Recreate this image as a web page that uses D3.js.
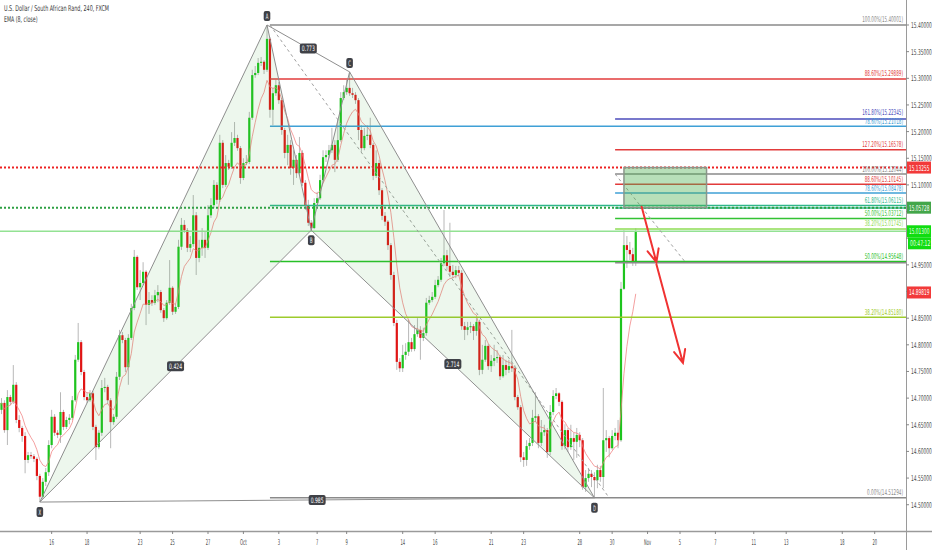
<!DOCTYPE html>
<html><head><meta charset="utf-8">
<script src="https://cdn.jsdelivr.net/npm/d3@7"></script>
<style>html,body{margin:0;padding:0;background:#fff;overflow:hidden}</style>
</head><body>
<svg id="c" width="932" height="550"></svg>
<script>
// ---------- DATA (USD/ZAR 4h candles) ----------
const opens = [
14.678,14.691,14.640,14.702,14.693,14.725,14.659,14.644,14.629,14.584,
14.593,14.591,14.586,14.554,14.515,14.543,14.561,14.612,14.665,14.635,
14.631,14.674,14.646,14.659,14.663,14.696,14.772,14.805,14.749,14.702,
14.696,14.709,14.646,14.608,14.635,14.719,14.721,14.696,14.655,14.665,
14.740,14.818,14.809,14.758,14.813,14.869,14.965,14.908,14.916,14.937,
14.875,14.884,14.879,14.893,14.899,14.865,14.850,14.879,14.907,14.862,
14.871,14.984,15.025,15.015,14.982,14.989,15.043,14.963,14.982,14.997,
14.982,15.043,15.062,15.100,15.072,15.179,15.100,15.141,15.134,15.179,
15.188,15.169,15.113,15.141,15.143,15.226,15.306,15.310,15.329,15.331,
15.316,15.374,15.241,15.272,15.287,15.259,15.203,15.160,15.175,15.132,
15.147,15.122,15.160,15.104,15.062,15.029,15.019,15.066,15.075,15.109,
15.152,15.156,15.165,15.175,15.147,15.184,15.263,15.274,15.282,15.272,
15.269,15.259,15.203,15.169,15.192,15.194,15.175,15.117,15.141,15.090,
15.042,15.031,14.987,14.931,14.841,14.768,14.756,14.781,14.787,14.805,
14.792,14.820,14.828,14.813,14.822,14.879,14.884,14.890,14.912,14.922,
14.953,14.968,14.948,14.937,14.931,14.940,14.935,14.835,14.828,14.833,
14.835,14.826,14.843,14.753,14.772,14.798,14.760,14.770,14.775,14.777,
14.741,14.762,14.753,14.760,14.756,14.702,14.683,14.589,14.584,14.610,
14.616,14.663,14.666,14.616,14.636,14.640,14.599,14.674,14.704,14.709,
14.693,14.610,14.640,14.608,14.625,14.618,14.631,14.621,14.533,14.550,
14.558,14.552,14.546,14.565,14.552,14.621,14.625,14.606,14.629,14.635,
14.621,14.905,14.987,14.978,14.970,14.955];
const highs = [
14.700,14.696,14.715,14.706,14.762,14.730,14.668,14.648,14.636,14.599,
14.599,14.595,14.589,14.558,14.550,14.569,14.621,14.678,14.670,14.640,
14.711,14.678,14.665,14.670,14.704,14.781,14.841,14.809,14.753,14.711,
14.715,14.713,14.650,14.640,14.734,14.738,14.725,14.700,14.670,14.749,
14.828,14.824,14.813,14.820,14.877,14.978,14.968,14.940,14.955,14.940,
14.899,14.893,14.903,14.912,14.903,14.869,14.884,14.959,14.910,14.877,
14.997,15.038,15.034,15.019,15.004,15.081,15.049,14.997,15.019,15.012,
15.062,15.075,15.109,15.105,15.194,15.184,15.156,15.147,15.199,15.218,
15.194,15.173,15.150,15.156,15.237,15.316,15.323,15.338,15.340,15.334,
15.400,15.377,15.282,15.297,15.293,15.263,15.207,15.194,15.184,15.165,
15.156,15.190,15.165,15.109,15.072,15.034,15.075,15.087,15.119,15.165,
15.165,15.175,15.207,15.184,15.222,15.274,15.287,15.297,15.312,15.282,
15.274,15.263,15.212,15.207,15.212,15.226,15.179,15.165,15.147,15.094,
15.049,15.034,14.991,14.937,14.847,14.775,14.800,14.803,14.847,14.813,
14.837,14.850,14.835,14.832,14.888,14.892,14.899,14.922,14.929,14.963,
15.053,14.978,15.029,14.950,14.948,14.948,14.940,14.843,14.843,14.843,
14.839,14.850,14.847,14.800,14.809,14.802,14.781,14.800,14.790,14.781,
14.781,14.772,14.772,14.828,14.762,14.706,14.687,14.599,14.621,14.625,
14.678,14.711,14.670,14.659,14.650,14.644,14.687,14.715,14.719,14.711,
14.696,14.651,14.644,14.650,14.635,14.644,14.636,14.625,14.565,14.569,
14.565,14.561,14.575,14.573,14.719,14.640,14.629,14.640,14.644,14.659,
14.918,15.015,15.004,14.993,14.982,15.019];
const lows = [
14.670,14.635,14.612,14.687,14.689,14.653,14.636,14.618,14.559,14.578,
14.586,14.580,14.546,14.505,14.511,14.535,14.554,14.606,14.629,14.625,
14.616,14.640,14.642,14.651,14.659,14.693,14.768,14.743,14.696,14.691,
14.693,14.640,14.584,14.604,14.629,14.711,14.689,14.606,14.650,14.661,
14.734,14.803,14.749,14.725,14.809,14.865,14.903,14.884,14.912,14.837,
14.858,14.873,14.875,14.880,14.860,14.843,14.847,14.875,14.856,14.858,
14.867,14.978,15.010,14.974,14.974,14.984,14.931,14.955,14.967,14.963,
14.978,15.038,15.057,15.064,15.068,15.094,15.096,15.128,15.130,15.173,
15.164,15.102,15.109,15.137,15.139,15.222,15.301,15.306,15.323,15.308,
15.312,15.226,15.212,15.267,15.252,15.194,15.150,15.137,15.119,15.100,
15.113,15.117,15.098,15.053,15.023,15.015,15.017,15.060,15.072,15.105,
15.143,15.150,15.160,15.124,15.143,15.181,15.259,15.269,15.267,15.263,
15.252,15.184,15.162,15.165,15.184,15.169,15.109,15.113,15.081,15.034,
15.023,14.978,14.922,14.835,14.753,14.749,14.749,14.772,14.779,14.787,
14.788,14.815,14.772,14.807,14.817,14.875,14.880,14.886,14.908,14.918,
14.948,14.940,14.927,14.925,14.925,14.929,14.828,14.809,14.818,14.822,
14.809,14.817,14.743,14.745,14.768,14.753,14.749,14.760,14.766,14.734,
14.738,14.743,14.747,14.749,14.696,14.678,14.580,14.571,14.573,14.603,
14.610,14.655,14.606,14.610,14.629,14.588,14.593,14.668,14.698,14.685,
14.603,14.604,14.599,14.603,14.584,14.588,14.608,14.528,14.524,14.543,
14.533,14.513,14.531,14.543,14.531,14.599,14.589,14.603,14.621,14.606,
14.618,14.903,14.944,14.959,14.948,14.948];
const closes = [
14.691,14.640,14.702,14.693,14.725,14.659,14.644,14.629,14.584,14.593,
14.591,14.586,14.554,14.515,14.543,14.561,14.612,14.665,14.635,14.631,
14.674,14.646,14.659,14.663,14.696,14.772,14.805,14.749,14.702,14.696,
14.709,14.646,14.608,14.635,14.719,14.721,14.696,14.655,14.665,14.740,
14.818,14.809,14.758,14.813,14.869,14.965,14.908,14.916,14.937,14.875,
14.884,14.879,14.893,14.899,14.865,14.850,14.879,14.907,14.862,14.871,
14.984,15.025,15.015,14.982,14.989,15.043,14.963,14.982,14.997,14.982,
15.043,15.062,15.100,15.072,15.179,15.100,15.141,15.134,15.179,15.188,
15.169,15.113,15.141,15.143,15.226,15.306,15.310,15.329,15.331,15.316,
15.374,15.241,15.272,15.287,15.259,15.203,15.160,15.175,15.132,15.147,
15.122,15.160,15.104,15.062,15.029,15.019,15.066,15.075,15.109,15.152,
15.156,15.165,15.175,15.147,15.184,15.263,15.274,15.282,15.272,15.269,
15.259,15.203,15.169,15.192,15.194,15.175,15.117,15.141,15.090,15.042,
15.031,14.987,14.931,14.841,14.768,14.756,14.781,14.787,14.805,14.792,
14.820,14.828,14.813,14.822,14.879,14.884,14.890,14.912,14.922,14.953,
14.968,14.948,14.937,14.931,14.940,14.935,14.835,14.828,14.833,14.835,
14.826,14.843,14.753,14.772,14.798,14.760,14.770,14.775,14.777,14.741,
14.762,14.753,14.760,14.756,14.702,14.683,14.589,14.584,14.610,14.616,
14.663,14.666,14.616,14.636,14.640,14.599,14.674,14.704,14.709,14.693,
14.610,14.640,14.608,14.625,14.618,14.631,14.621,14.533,14.550,14.558,
14.552,14.546,14.565,14.552,14.621,14.625,14.606,14.629,14.635,14.621,
14.905,14.987,14.978,14.970,14.955,15.013];

const tickLabels = ["16","18","23","25","27","Oct","3","7","9","14","16","21","23","28","30","Nov","5","7","11","13","18","20"];
const tickBars   = [17,29,47,58,70,82,94,107,117,136,147,166,177,196,207,219,230,242,255,266,285,296];
const priceTicks = [14.50,14.55,14.60,14.65,14.70,14.75,14.80,14.85,14.90,14.95,15.00,15.05,15.10,15.15,15.20,15.25,15.30,15.35,15.40];

const patternNames  = ["X","A","B","C","D"];
const patternBars   = [13,90,105,118,201];
const patternPrices = [14.505,15.400,15.015,15.312,14.513];
const ratioFrom = [1,0,2,0];
const ratioTo   = [3,2,4,4];
const ratioText = ["0.773","0.424","2.714","0.985"];

const fib1Levels = ["100.00%","88.60%","78.60%","61.80%","50.00%","38.20%","0.00%"];
const fib1Prices = [15.40001,15.29889,15.21018,15.06115,14.95648,14.85180,14.51294];
const fib1Colors = ["#8a8a8a","#e23b3b","#3fa0d6","#2fb78a","#27c027","#9dcb2c","#8a8a8a"];
const fib1Anchor = [[91,15.40001],[206,14.51294]];

const fib2Levels = ["161.80%","127.20%","100.00%","88.60%","78.60%","61.80%","50.00%","38.20%","0.00%"];
const fib2Prices = [15.22345,15.16578,15.12044,15.10145,15.08478,15.05677,15.03712,15.01745,14.95376];
const fib2Colors = ["#4b4bbb","#e23b3b","#8a8a8a","#e23b3b","#3fa0d6","#2fb78a","#33c233","#8edc55","#8a8a8a"];
const fib2ShowLabel = [1,1,1,1,1,0,1,1,0];
const fib2Anchor = [[208,15.12044],[232,14.95376]];

const hLinePrices = [15.13255,15.05728];
const hLineColors = ["#ee2222","#2ea043"];

const zoneBars   = [211,239];
const zonePrices = [15.13255,15.05728];

const arrowFromBars   = [217,222];
const arrowFromPrices = [15.059,14.951];
const arrowToBars     = [222,231];
const arrowToPrices   = [14.955,14.766];

const emaLength = 8;
const emaLabelValue = 14.89819;
const countdownText = "00:47:12";

// ---------- LAYOUT ----------
const W = 932, H = 550, plotW = 906, plotH = 531;
const font = "'Liberation Sans Narrow','DejaVu Sans Condensed','Liberation Sans',Arial,sans-serif";
const svg = d3.select("#c");
svg.append("rect").attr("width", W).attr("height", H).attr("fill", "#fff");

const x = d3.scaleLinear().domain([0, 300]).range([1.5, 886.5]);
const y = d3.scaleLinear().domain([14.4507, 15.4469]).range([plotH, 0]);

svg.append("defs").append("clipPath").attr("id", "clip")
  .append("rect").attr("width", plotW).attr("height", plotH);
const plot = svg.append("g").attr("clip-path", "url(#clip)");

// text helper: condensed text scaled horizontally to a target width per character
function txt(g, s, px, py, o) {
  const gg = g.append("g").attr("transform", `translate(${px},${py})`);
  const t = gg.append("text").attr("x", 0).attr("y", 0).text(s)
    .attr("font-family", font).attr("font-size", o.size || 8)
    .attr("fill", o.fill || "#333").attr("text-anchor", o.anchor || "start");
  if (o.cw) {
    const nat = t.node().getComputedTextLength();
    if (nat > 0) gg.attr("transform", `translate(${px},${py}) scale(${(s.length * o.cw / nat).toFixed(4)},1)`);
  }
  return gg;
}

// candles
const candles = closes.map((c, i) => ({ i, o: opens[i], h: highs[i], l: lows[i], c }));
const cg = plot.append("g");
cg.selectAll("line").data(candles).join("line")
  .attr("x1", d => x(d.i)).attr("x2", d => x(d.i))
  .attr("y1", d => y(d.h)).attr("y2", d => y(d.l))
  .attr("stroke", "#b8b8b8").attr("stroke-width", 1);
cg.selectAll("rect").data(candles).join("rect")
  .attr("x", d => x(d.i) - 1.1).attr("width", 2.2)
  .attr("y", d => y(Math.max(d.o, d.c)))
  .attr("height", d => Math.max(1, Math.abs(y(d.o) - y(d.c))))
  .attr("fill", d => d.c >= d.o ? "#1ec41e" : "#e01414");

// EMA(8, close)
const k = 2 / (emaLength + 1);
const ema = [];
closes.forEach((c, i) => ema.push(i === 0 ? c : ema[i - 1] + k * (c - ema[i - 1])));
plot.append("path").datum(ema)
  .attr("d", d3.line().x((d, i) => x(i)).y(d => y(d)))
  .attr("fill", "none").attr("stroke", "#f07f7f").attr("stroke-width", 1).attr("opacity", 0.75);

// drawings
const gd = plot.append("g");

// last price line
const lastClose = closes[closes.length - 1];
gd.append("line").attr("x1", 0).attr("x2", plotW).attr("y1", y(lastClose)).attr("y2", y(lastClose))
  .attr("stroke", "#93e293").attr("stroke-width", 1.5);

function drawFib(levels, prices, colors, anchor) {
  levels.forEach((lv, j) => {
    const yy = y(prices[j]);
    gd.append("line").attr("x1", x(anchor[0][0])).attr("x2", plotW).attr("y1", yy).attr("y2", yy)
      .attr("stroke", colors[j]).attr("stroke-width", 1.5);
  });
  gd.append("line")
    .attr("x1", x(anchor[0][0])).attr("y1", y(anchor[0][1]))
    .attr("x2", x(anchor[1][0])).attr("y2", y(anchor[1][1]))
    .attr("stroke", "#a0a0a0").attr("stroke-width", 1).attr("stroke-dasharray", "3,3");
}
drawFib(fib1Levels, fib1Prices, fib1Colors, fib1Anchor);
drawFib(fib2Levels, fib2Prices, fib2Colors, fib2Anchor);

// dotted horizontal lines
hLinePrices.forEach((p, j) => {
  gd.append("line").attr("x1", 0).attr("x2", plotW).attr("y1", y(p)).attr("y2", y(p))
    .attr("stroke", hLineColors[j]).attr("stroke-width", 2).attr("stroke-dasharray", "2,2");
});

// XABCD pattern
const pts = patternBars.map((b, j) => ({ x: x(b), y: y(patternPrices[j]) }));
[[0, 1, 2], [2, 3, 4]].forEach(tri => {
  gd.append("polygon").attr("points", tri.map(j => pts[j].x + "," + pts[j].y).join(" "))
    .attr("fill", "rgba(76,175,80,0.10)").attr("stroke", "none");
});
[[0,1],[1,2],[2,3],[3,4],[0,2],[2,4],[1,3],[0,4]].forEach(s => {
  gd.append("line").attr("x1", pts[s[0]].x).attr("y1", pts[s[0]].y)
    .attr("x2", pts[s[1]].x).attr("y2", pts[s[1]].y)
    .attr("stroke", "#8e8e8e").attr("stroke-width", 1);
});

// target zone
gd.append("rect")
  .attr("x", x(zoneBars[0])).attr("y", y(zonePrices[0]))
  .attr("width", x(zoneBars[1]) - x(zoneBars[0]))
  .attr("height", y(zonePrices[1]) - y(zonePrices[0]))
  .attr("fill", "rgba(76,175,80,0.40)").attr("stroke", "#8a968a").attr("stroke-width", 1.5);

// arrows
arrowFromBars.forEach((b, j) => {
  const x1 = x(b), y1 = y(arrowFromPrices[j]), x2 = x(arrowToBars[j]), y2 = y(arrowToPrices[j]);
  const a = Math.atan2(y2 - y1, x2 - x1), L = 14, s = 0.42;
  gd.append("path")
    .attr("d", `M${x1},${y1}L${x2},${y2}M${x2 - L * Math.cos(a - s)},${y2 - L * Math.sin(a - s)}L${x2},${y2}L${x2 - L * Math.cos(a + s)},${y2 - L * Math.sin(a + s)}`)
    .attr("fill", "none").attr("stroke", "#f03232").attr("stroke-width", 2).attr("stroke-linecap", "round");
});

// labels layer (not clipped)
const gl = svg.append("g");

// pattern tags
function tag(s, cx, cy) {
  const w = s.length * 2.6 + 4, h = 10;
  gl.append("rect").attr("x", cx - w / 2).attr("y", cy - h / 2).attr("width", w).attr("height", h)
    .attr("rx", 2).attr("fill", "#3f4147");
  txt(gl, s, cx, cy + 3, { size: 7.5, fill: "#fff", anchor: "middle", cw: 2.6 });
}
ratioText.forEach((t, j) => {
  const a = pts[ratioFrom[j]], b = pts[ratioTo[j]];
  tag(t, (a.x + b.x) / 2, (a.y + b.y) / 2);
});
patternNames.forEach((n, j) => {
  const above = (j === 1 || j === 3);
  tag(n, pts[j].x, pts[j].y + (above ? -9 : 10));
});

// fib labels (right-aligned at the level, just above the line), nudged apart if too close
const fibLab = [];
function collect(levels, prices, colors, show) {
  levels.forEach((lv, j) => {
    if (show && !show[j]) return;
    fibLab.push({ s: lv + "(" + prices[j].toFixed(5) + ")", yy: y(prices[j]) - 2.5, c: colors[j] });
  });
}
collect(fib1Levels, fib1Prices, fib1Colors, null);
collect(fib2Levels, fib2Prices, fib2Colors, fib2ShowLabel);
fibLab.sort((a, b) => b.yy - a.yy);
for (let i = 1; i < fibLab.length; i++) {
  if (fibLab[i - 1].yy - fibLab[i].yy < 8.5) fibLab[i].yy = fibLab[i - 1].yy - 8.5;
}
fibLab.forEach(d => txt(gl, d.s, 903, d.yy, { size: 8, fill: d.c, anchor: "end", cw: 2.4 }));

// ---------- AXES ----------
const ax = svg.append("g");
ax.append("line").attr("x1", plotW + 0.5).attr("x2", plotW + 0.5).attr("y1", 0).attr("y2", H)
  .attr("stroke", "#9a9a9a").attr("stroke-width", 1);
ax.append("line").attr("x1", 0).attr("x2", W).attr("y1", plotH + 0.5).attr("y2", plotH + 0.5)
  .attr("stroke", "#9a9a9a").attr("stroke-width", 1.5);

const boxCenters = [y(hLinePrices[0]), y(hLinePrices[1]), y(lastClose), y(lastClose) + 12, y(emaLabelValue)];
priceTicks.forEach(p => {
  const yy = y(p);
  ax.append("line").attr("x1", plotW).attr("x2", plotW + 3).attr("y1", yy).attr("y2", yy).attr("stroke", "#888");
  if (boxCenters.some(c => Math.abs(c - yy) < 9)) return; // hidden behind a price box
  txt(ax, p.toFixed(5), 911, yy + 3, { size: 8, fill: "#4a4a4a", cw: 2.6 });
});
tickBars.forEach((b, j) => {
  const xx = x(b);
  ax.append("line").attr("x1", xx).attr("x2", xx).attr("y1", plotH).attr("y2", plotH + 3).attr("stroke", "#888");
  txt(ax, tickLabels[j], xx, 545, { size: 8, fill: "#4a4a4a", anchor: "middle", cw: 2.3 });
});

// price boxes on the right axis
function priceBox(p, label, fill, color, x0, dy) {
  const yy = y(p) + (dy || 0);
  ax.append("rect").attr("x", x0).attr("y", yy - 6).attr("width", W - x0 - 1).attr("height", 12).attr("fill", fill);
  txt(ax, label, x0 + 2, yy + 3, { size: 8, fill: color, cw: 2.55 });
}
priceBox(hLinePrices[0], hLinePrices[0].toFixed(5), "#f23a3a", "#fff", 907);
priceBox(hLinePrices[1], hLinePrices[1].toFixed(5), "#43a64a", "#fff", 907);
priceBox(lastClose, lastClose.toFixed(5), "#10dd10", "#e9ffe9", 907);
priceBox(lastClose, countdownText, "#10dd10", "#e9ffe9", 908, 12);
priceBox(emaLabelValue, emaLabelValue.toFixed(5), "#f23a3a", "#fff", 907);

// title
txt(svg, "U.S. Dollar / South African Rand, 240, FXCM", 4, 11, { size: 8, fill: "#3a3a3a", cw: 2.45 });
txt(svg, "EMA (8, close)", 4, 22, { size: 8, fill: "#3a3a3a", cw: 2.4 });
</script>
</body></html>
